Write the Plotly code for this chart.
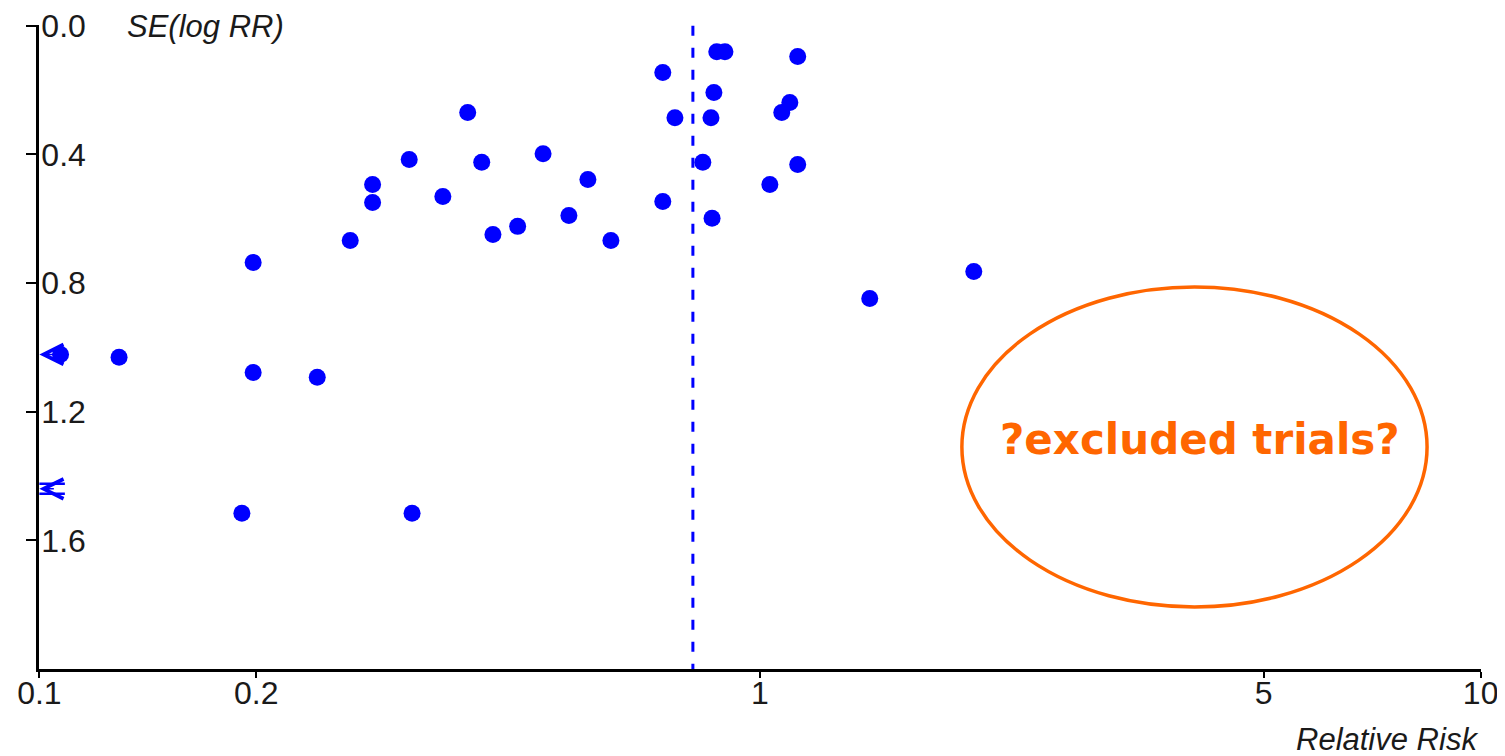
import math
import plotly.graph_objects as go

# ---- data ----
relative_risk = [0.107, 0.129, 0.198, 0.198, 0.191, 0.243, 0.270, 0.290, 0.290,
                 0.326, 0.329, 0.363, 0.393, 0.411, 0.426, 0.461, 0.500, 0.543,
                 0.577, 0.621, 0.733, 0.733, 0.762, 0.833, 0.855, 0.863, 0.858,
                 0.871, 0.894, 1.032, 1.072, 1.100, 1.128, 1.128, 1.420, 1.980]
se_log_rr = [1.022, 1.031, 0.736, 1.078, 1.516, 1.093, 0.668, 0.494, 0.550,
             0.416, 1.516, 0.531, 0.270, 0.425, 0.649, 0.624, 0.398, 0.590,
             0.478, 0.668, 0.146, 0.547, 0.286, 0.425, 0.286, 0.208, 0.599,
             0.081, 0.081, 0.494, 0.270, 0.239, 0.096, 0.432, 0.848, 0.764]

# trials whose RR lies below the axis minimum (drawn as arrows at the left edge)
offscale_se = [1.022, 1.44]
offscale_count = [1, 2]

pooled_rr = 0.807
x_tickvals = [0.1, 0.2, 1, 5, 10]
x_ticktext = ["0.1", "0.2", "1", "5", "10"]
y_tickvals = [0.0, 0.4, 0.8, 1.2, 1.6]
y_ticktext = ["0.0", "0.4", "0.8", "1.2", "1.6"]
x_range = [0.1, 10]
y_range = [2.0, 0.0]
note_text = "?excluded trials?"

BLUE = "#0000FF"
ORANGE = "#FF6600"
FONT = "Liberation Sans, Arial, sans-serif"
TXT = "#1a1a1a"

fig = go.Figure()

fig.add_trace(go.Scatter(
    x=[pooled_rr, pooled_rr], y=[y_range[1], y_range[0]],
    mode="lines", line=dict(color=BLUE, width=3, dash="10px,12px"),
    hoverinfo="skip", showlegend=False, cliponaxis=False))

fig.add_trace(go.Scatter(
    x=relative_risk, y=se_log_rr, mode="markers",
    marker=dict(color=BLUE, size=17, line=dict(width=0)),
    showlegend=False))

annotations = []
for s, c in zip(offscale_se, offscale_count):
    # chevron head pointing to the left edge
    annotations.append(dict(
        x=math.log10(x_range[0]), y=s, xref="x", yref="y",
        showarrow=True, ax=16, ay=0, axref="pixel", ayref="pixel",
        arrowhead=5, arrowsize=2.6, arrowwidth=1.5, arrowcolor=BLUE, text=""))
    if c > 1:
        for sh in [5, -5]:
            annotations.append(dict(
                x=math.log10(x_range[0]), y=s, xref="x", yref="y",
                showarrow=True, ax=27, ay=0, axref="pixel", ayref="pixel",
                arrowhead=0, arrowwidth=2.5, arrowcolor=BLUE,
                yshift=sh, text=""))

annotations += [
    dict(x=0.0596, y=0.997, xref="paper", yref="paper", text="<i>SE(log RR)</i>",
         showarrow=False, xanchor="left", yanchor="middle",
         font=dict(family=FONT, size=31, color=TXT)),
    dict(x=0.9993, y=-0.110, xref="paper", yref="paper", text="<i>Relative Risk</i>",
         showarrow=False, xanchor="right", yanchor="middle",
         font=dict(family=FONT, size=31, color=TXT)),
    dict(x=0.805, y=0.3556, xref="paper", yref="paper", text="<b>" + note_text + "</b>",
         showarrow=False, xanchor="center", yanchor="middle",
         font=dict(family="DejaVu Sans, Verdana, sans-serif", size=42, color=ORANGE)),
]

fig.add_shape(type="circle", xref="paper", yref="paper",
              x0=0.640, x1=0.9626, y0=0.0963, y1=0.5932,
              line=dict(color=ORANGE, width=3.5), fillcolor="rgba(0,0,0,0)")

# the page body adds an 8px offset, so the figure is 8px smaller with 8px smaller left/top margins
fig.update_layout(
    width=1497, height=748,
    margin=dict(l=31, r=24, t=17, b=87, autoexpand=False),
    paper_bgcolor="white", plot_bgcolor="white",
    font=dict(family=FONT, size=32, color=TXT),
    annotations=annotations,
    xaxis=dict(type="log",
               range=[math.log10(x_range[0]) - 0.0005, math.log10(x_range[1]) + 0.0005],
               tickvals=x_tickvals, ticktext=x_ticktext, automargin=False,
               showgrid=False, zeroline=False, showline=True,
               linecolor="black", linewidth=2.5,
               ticks="outside", ticklen=6, tickwidth=2, tickcolor="black",
               ticklabelstandoff=-12,
               tickfont=dict(family=FONT, size=32, color=TXT)),
    yaxis=dict(range=[y_range[0], y_range[1] - 0.002], tickvals=y_tickvals,
               ticktext=y_ticktext, automargin=False,
               showgrid=False, zeroline=False, showline=True,
               linecolor="black", linewidth=2.5,
               ticks="outside", ticklen=10, tickwidth=2, tickcolor="black",
               ticklabelposition="inside", ticklabeloverflow="allow",
               ticklabelstandoff=6,
               tickfont=dict(family=FONT, size=32, color=TXT)),
)

fig.write_html("out.html")
